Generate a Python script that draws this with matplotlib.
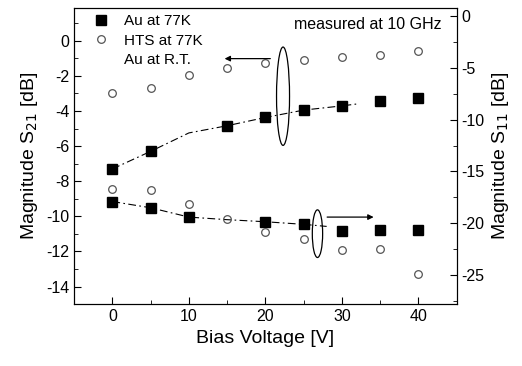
import numpy as np
import matplotlib.pyplot as plt
from matplotlib.patches import Ellipse
from matplotlib.lines import Line2D

plt.rcParams['font.family'] = ['Liberation Sans', 'DejaVu Sans']
plt.rcParams['axes.unicode_minus'] = False

# bias voltage (V)
volt = [0, 5, 10, 15, 20, 25, 30, 35, 40]

# S21 (left axis)
s21_au77 = [-7.3, -6.3, np.nan, -4.84, -4.37, -3.95, -3.71, -3.43, -3.24]
s21_hts77 = [-3.0, -2.67, -1.96, -1.58, -1.26, -1.07, -0.92, -0.79, -0.56]
volt_rt21 = [0, 5, 10, 15, 20, 25, 30, 32]
s21_aurt = [-7.3, -6.3, -5.25, -4.84, -4.37, -3.95, -3.71, -3.6]

# S11 (right axis)
s11_au77 = [-17.9, -18.5, -19.4, np.nan, -19.85, -20.1, -20.7, -20.65, -20.6]
s11_hts77 = [-16.7, -16.8, -18.1, -19.6, -20.8, -21.5, -22.6, -22.5, -24.9]
volt_rt11 = [0, 5, 10, 15, 20, 25, 28]
s11_aurt = [-17.9, -18.5, -19.4, -19.65, -19.85, -20.1, -20.3]

fig = plt.figure(figsize=(5.22, 3.66), dpi=100)
ax = fig.add_axes([0.142, 0.169, 0.733, 0.809])
ax2 = ax.twinx()

sq = dict(marker='s', color='black', linestyle='none', markersize=6.5)
ci = dict(marker='o', markerfacecolor='none', markeredgecolor='#555555',
          linestyle='none', markersize=5.5, markeredgewidth=0.9)
rt = dict(color='black', linewidth=0.8, dashes=(7, 3, 1.5, 3))

ax.plot(volt_rt21, s21_aurt, **rt)
ax.plot(volt, s21_au77, **sq)
ax.plot(volt, s21_hts77, **ci)
ax2.plot(volt_rt11, s11_aurt, **rt)
ax2.plot(volt, s11_au77, **sq)
ax2.plot(volt, s11_hts77, **ci)

ax.set_xlim(-5, 45)
ax.set_ylim(-14.85, 1.86)
ax2.set_ylim(-27.8, 0.77)

ax.set_xticks([0, 10, 20, 30, 40])
ax.set_xticks([-5, 5, 15, 25, 35, 45], minor=True)
ax.set_yticks(np.arange(-14, 1, 2))
ax.set_yticks(np.arange(-15, 2, 2), minor=True)
ax2.set_yticks(np.arange(-25, 1, 5))
ax2.set_yticks(np.arange(-27.5, 1, 5), minor=True)

for a in (ax, ax2):
    a.tick_params(which='both', direction='in', labelsize=11.5)
    a.tick_params(which='major', length=5)
    a.tick_params(which='minor', length=3)
ax.tick_params(axis='x', which='both', top=False)

ax.set_xlabel('Bias Voltage [V]', fontsize=14)
ax.set_ylabel('Magnitude S$_{21}$ [dB]', fontsize=14)
ax2.set_ylabel('Magnitude S$_{11}$ [dB]', fontsize=14)

# grouping ellipses and arrows
ax.add_patch(Ellipse((22.3, -3.16), 1.7, 5.6, fill=False, color='black', linewidth=0.9))
ax.annotate('', xy=(14.3, -1.02), xytext=(21.0, -1.02),
            arrowprops=dict(arrowstyle='-|>', color='black', linewidth=0.9, mutation_scale=8))
ax2.add_patch(Ellipse((26.8, -21.0), 1.35, 4.6, fill=False, color='black', linewidth=0.9))
ax2.annotate('', xy=(34.5, -19.4), xytext=(27.7, -19.4),
             arrowprops=dict(arrowstyle='-|>', color='black', linewidth=0.9, mutation_scale=8))

ax.text(0.96, 0.945, 'measured at 10 GHz', transform=ax.transAxes,
        ha='right', va='center', fontsize=11.5)

handles = [Line2D([], [], **sq), Line2D([], [], **ci),
           Line2D([], [], color='white', linewidth=0)]
ax.legend(handles, ['Au at 77K', 'HTS at 77K', 'Au at R.T.'], loc='upper left',
          bbox_to_anchor=(0.03, 1.0), frameon=False, fontsize=11,
          handlelength=1.2, handletextpad=0.9,
          borderaxespad=0.1, labelspacing=0.35, borderpad=0.3)

fig.savefig('out.png', dpi=100)
